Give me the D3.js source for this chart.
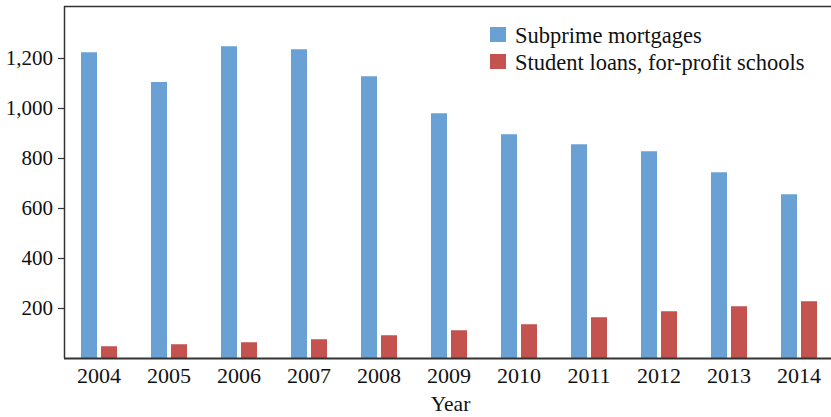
<!DOCTYPE html>
<html>
<head>
<meta charset="utf-8">
<script src="https://cdn.jsdelivr.net/npm/d3@7"></script>
<style>
  html, body { margin: 0; padding: 0; background: #fff; }
  svg { display: block; }
  text { font-family: "Liberation Serif", "Times New Roman", Times, Tinos, "DejaVu Serif", "Noto Serif", serif; fill: #111; }
</style>
</head>
<body>
<svg id="chart" width="831" height="417"></svg>
<script>
// Defaults by year, thousands of borrowers
const years = ["2004","2005","2006","2007","2008","2009","2010","2011","2012","2013","2014"];
const subprime = [1223, 1104, 1247, 1235, 1127, 979, 895, 855, 827, 743, 655];
const studentLoans = [47, 55, 63, 75, 91, 111, 135, 163, 187, 207, 227];
const seriesNames = ["Subprime mortgages", "Student loans, for-profit schools"];
const seriesColors = ["#6aa1d5", "#c4524f"];
const yTicks = [200, 400, 600, 800, 1000, 1200];

const serifStack = '"Liberation Serif", "Times New Roman", Times, Tinos, "DejaVu Serif", "Noto Serif", serif';
const svg = d3.select("#chart");
const plotLeft = 64, plotRight = 834, plotTop = 6, plotBottom = 358;

const x = d3.scaleBand().domain(years).range([plotLeft, plotRight]).paddingInner(0).paddingOuter(0);
const y = d3.scaleLinear().domain([0, 1408]).range([plotBottom, plotTop]);

const barW = 16, gap = 4;
const groups = svg.append("g").selectAll("g")
  .data(years.map((yr, i) => ({ yr, vals: [subprime[i], studentLoans[i]] })))
  .join("g")
  .attr("transform", d => `translate(${x(d.yr) + x.bandwidth() / 2 - barW - gap / 2},0)`);

groups.selectAll("rect")
  .data(d => d.vals)
  .join("rect")
  .attr("x", (v, j) => j * (barW + gap))
  .attr("y", v => y(v))
  .attr("width", barW)
  .attr("height", v => y(0) - y(v))
  .attr("fill", (v, j) => seriesColors[j]);

// Frame: top edge
svg.append("line").attr("x1", plotLeft).attr("x2", plotRight).attr("y1", plotTop + 0.5).attr("y2", plotTop + 0.5)
  .attr("stroke", "#333").attr("stroke-width", 1.5);

// Y axis
const yAxis = svg.append("g")
  .attr("transform", `translate(${plotLeft},0)`)
  .call(d3.axisLeft(y).tickValues(yTicks).tickFormat(d3.format(",")).tickSize(6).tickPadding(5));
yAxis.attr("font-family", serifStack).attr("font-size", 21);
yAxis.select(".domain").attr("d", `M0.5,${plotTop}V${plotBottom}`).attr("stroke", "#333").attr("stroke-width", 1.5);
yAxis.selectAll(".tick line").attr("stroke", "#333").attr("stroke-width", 1.2);
yAxis.selectAll("text").attr("fill", "#111");

// X axis
const xAxis = svg.append("g")
  .attr("transform", `translate(0,${plotBottom})`)
  .call(d3.axisBottom(x).tickSize(0).tickPadding(9.5));
xAxis.attr("font-family", serifStack).attr("font-size", 22);
xAxis.select(".domain").attr("d", `M${plotLeft},0.5H${plotRight}`).attr("stroke", "#333").attr("stroke-width", 2);
xAxis.selectAll("text").attr("fill", "#111");

svg.append("text")
  .attr("x", (plotLeft + plotRight) / 2 + 1.5)
  .attr("y", 411)
  .attr("text-anchor", "middle")
  .style("font-size", "21.5px")
  .text("Year");

// Legend
const legend = svg.append("g").attr("transform", "translate(490,27)");
seriesNames.forEach((name, i) => {
  const g = legend.append("g").attr("transform", `translate(0,${i * 27})`);
  g.append("rect").attr("width", 16).attr("height", 15).attr("fill", seriesColors[i]);
  g.append("text").attr("x", 25).attr("y", 16.3).style("font-size", "22.5px").text(name);
});
</script>
</body>
</html>
